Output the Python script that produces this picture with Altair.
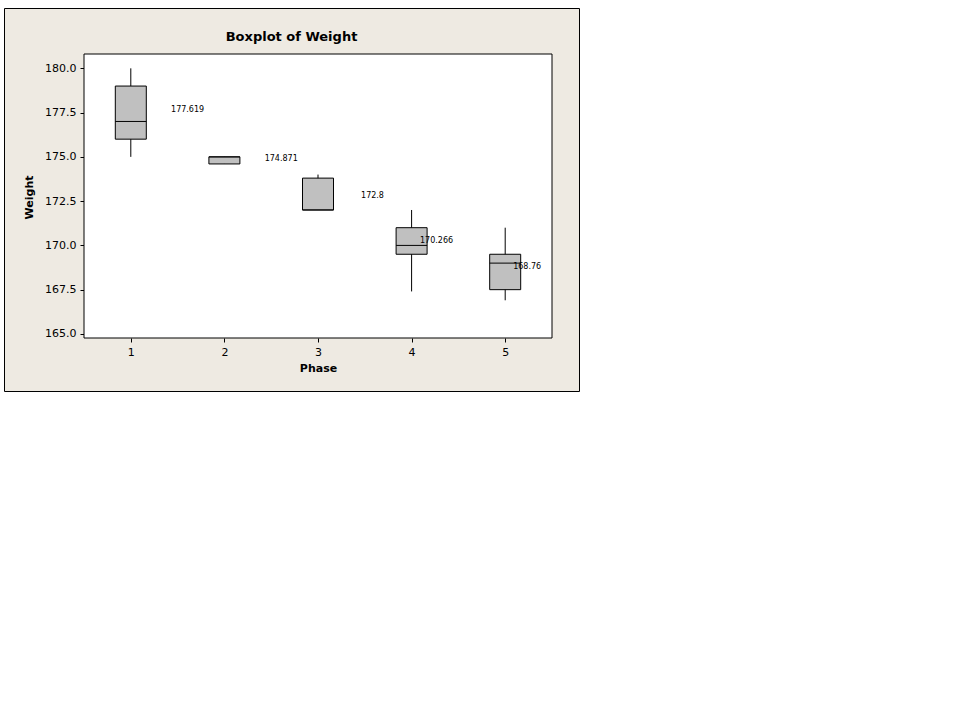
import altair as alt
import pandas as pd

# ---- data ----
phase = [1, 2, 3, 4, 5]
whisker_low = [175.0, 174.6, 172.0, 167.4, 166.9]
q1 = [176.0, 174.6, 172.0, 169.5, 167.5]
median = [177.0, 175.0, 172.0, 170.0, 169.0]
q3 = [179.0, 175.0, 173.8, 171.0, 169.5]
whisker_high = [180.0, 175.0, 174.0, 172.0, 171.0]
mean_value = [177.619, 174.871, 172.8, 170.266, 168.76]
mean_label = ["177.619", "174.871", "172.8", "170.266", "168.76"]
label_phase = [1.43, 2.43, 3.46, 4.09, 5.085]
y_ticks = [165.0, 167.5, 170.0, 172.5, 175.0, 177.5, 180.0]
x_ticks = [1, 2, 3, 4, 5]

# frame (whole Minitab graph window) and inner data region, in pixels
FW, FH = 575, 383
PL, PR, PT, PB = 80, 548, 46, 330
FONT = "DejaVu Sans"
BEIGE = "#EEEAE2"

df = pd.DataFrame({
    "phase": phase, "lo": whisker_low, "q1": q1, "med": median,
    "q3": q3, "hi": whisker_high, "mean": mean_value,
    "label": mean_label, "lx": label_phase,
})

xs = alt.Scale(domain=[0.5, 5.5], range=[PL, PR], nice=False, zero=False, padding=0)
ys = alt.Scale(domain=[164.77, 180.81], range=[PB, PT], nice=False, zero=False, padding=0)

x_axis = alt.Axis(
    title="Phase", values=x_ticks, format="d", domain=False, grid=False,
    offset=-(FH - PB),
    tickSize=4, tickColor="black", labelColor="black", labelFont=FONT,
    labelFontSize=11, labelPadding=4, titleFont=FONT, titleFontSize=11,
    titleFontWeight="bold", titleColor="black", titleX=(PL + PR) / 2, titleY=30,
    titleBaseline="middle", titleAlign="center",
)
y_axis = alt.Axis(
    title="Weight", values=y_ticks, format=".1f", domain=False, grid=False,
    offset=-PL,
    tickSize=4, tickColor="black", labelColor="black", labelFont=FONT,
    labelFontSize=11, labelPadding=4, titleFont=FONT, titleFontSize=11,
    titleFontWeight="bold", titleColor="black", titleX=-55, titleY=189,
    titleAngle=-90, titleBaseline="middle", titleAlign="center",
)

one = alt.Data(values=[{"k": 1}])

plot_bg = alt.Chart(one).mark_rect(fill="white", stroke="black", strokeWidth=1).encode(
    x=alt.value(PL), x2=alt.value(PR), y=alt.value(PT), y2=alt.value(PB)
)

base = alt.Chart(df)

whiskers = base.mark_rule(color="black", strokeWidth=1).encode(
    x=alt.X("phase:Q", scale=xs, axis=x_axis),
    y=alt.Y("lo:Q", scale=ys, axis=y_axis),
    y2="hi:Q",
)
boxes = base.mark_bar(size=31, fill="#C0C0C0", stroke="black", strokeWidth=1).encode(
    x=alt.X("phase:Q", scale=xs),
    y=alt.Y("q1:Q", scale=ys),
    y2="q3:Q",
)
medians = base.mark_tick(orient="horizontal", size=31, thickness=1, color="black", opacity=1).encode(
    x=alt.X("phase:Q", scale=xs),
    y=alt.Y("med:Q", scale=ys),
)
labels = base.mark_text(font=FONT, fontSize=8, align="left", baseline="middle", color="black").encode(
    x=alt.X("lx:Q", scale=xs),
    y=alt.Y("mean:Q", scale=ys),
    text="label:N",
)

chart = alt.layer(plot_bg, whiskers, boxes, medians, labels).properties(
    width=FW, height=FH,
    title=alt.TitleParams(
        "Boxplot of Weight", font=FONT, fontSize=13, fontWeight="bold",
        color="black", anchor="middle", frame="group", baseline="alphabetic",
        offset=0, dy=46,
    ),
    autosize=alt.AutoSizeParams(type="none"),
    padding={"left": 4, "top": 8, "right": 960 - 4 - FW, "bottom": 720 - 8 - FH},
).configure(background="white").configure_view(stroke="black", strokeWidth=1, fill=BEIGE)

chart.save("out.html", embed_options={"renderer": "svg", "actions": False})
